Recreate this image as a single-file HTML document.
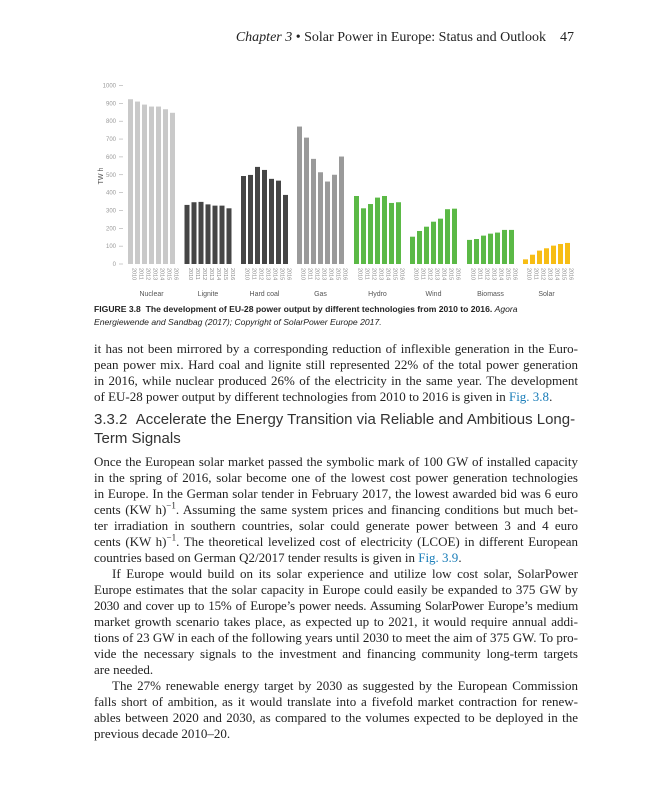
<!DOCTYPE html>
<html><head><meta charset="utf-8"><style>
body{margin:0;background:#fff;width:647px;height:800px;position:relative;overflow:hidden}
.hdr{position:absolute;top:30px;right:73px;font:14px "Liberation Serif",serif;color:#222}
.cap{position:absolute;left:94px;top:303px;width:432px;font:8.6px/13px "Liberation Sans",sans-serif;color:#222}
.body{position:absolute;left:94px;width:484px;font:13px/16px "Liberation Serif",serif;color:#222}
.body div{text-align:justify;text-align-last:justify;white-space:nowrap;overflow:visible}
.body div.l{text-align-last:left}
.body div.i{text-indent:18px}
.h{position:absolute;left:94px;top:410px;width:490px;font:15px/19px "Liberation Sans",sans-serif;color:#333;white-space:nowrap}
a{color:#1a7db8;text-decoration:none}
</style></head><body>
<div class="hdr"><i>Chapter 3</i> • Solar Power in Europe: Status and Outlook &nbsp;&nbsp; 47</div>
<svg width="647" height="300" style="position:absolute;left:0;top:0" font-family="Liberation Sans,sans-serif">
<g id="axis" fill="#999" font-size="6" text-anchor="end"></g>
</svg>
<div class="cap"><b>FIGURE 3.8 &nbsp;The development of EU-28 power output by different technologies from 2010 to 2016.</b> <i>Agora Energiewende and Sandbag (2017); Copyright of SolarPower Europe 2017.</i></div>
<div class="body" style="top:341px">
<div>it has not been mirrored by a corresponding reduction of inflexible generation in the Euro-</div>
<div>pean power mix. Hard coal and lignite still represented 22% of the total power generation</div>
<div>in 2016, while nuclear produced 26% of the electricity in the same year. The development</div>
<div class="l">of EU-28 power output by different technologies from 2010 to 2016 is given in <a>Fig. 3.8</a>.</div>
</div>
<div class="h">3.3.2 &nbsp;Accelerate the Energy Transition via Reliable and Ambitious Long-<br>Term Signals</div>
<div class="body" style="top:454px">
<div>Once the European solar market passed the symbolic mark of 100 GW of installed capacity</div>
<div>in the spring of 2016, solar become one of the lowest cost power generation technologies</div>
<div>in Europe. In the German solar tender in February 2017, the lowest awarded bid was 6 euro</div>
<div>cents (KW h)<sup style="font-size:9px;line-height:0">−1</sup>. Assuming the same system prices and financing conditions but much bet-</div>
<div>ter irradiation in southern countries, solar could generate power between 3 and 4 euro</div>
<div>cents (KW h)<sup style="font-size:9px;line-height:0">−1</sup>. The theoretical levelized cost of electricity (LCOE) in different European</div>
<div class="l">countries based on German Q2/2017 tender results is given in <a>Fig. 3.9</a>.</div>
<div class="i">If Europe would build on its solar experience and utilize low cost solar, SolarPower</div>
<div>Europe estimates that the solar capacity in Europe could easily be expanded to 375 GW by</div>
<div style="letter-spacing:-0.2px">2030 and cover up to 15% of Europe’s power needs. Assuming SolarPower Europe’s medium</div>
<div>market growth scenario takes place, as expected up to 2021, it would require annual addi-</div>
<div>tions of 23 GW in each of the following years until 2030 to meet the aim of 375 GW. To pro-</div>
<div>vide the necessary signals to the investment and financing community long-term targets</div>
<div class="l">are needed.</div>
<div class="i">The 27% renewable energy target by 2030 as suggested by the European Commission</div>
<div>falls short of ambition, as it would translate into a fivefold market contraction for renew-</div>
<div>ables between 2020 and 2030, as compared to the volumes expected to be deployed in the</div>
<div class="l">previous decade 2010–20.</div>
</div>
<script>
const g=document.getElementById('axis'),NS='http://www.w3.org/2000/svg';
function el(t,a,txt){const e=document.createElementNS(NS,t);for(const k in a)e.setAttribute(k,a[k]);if(txt)e.textContent=txt;g.appendChild(e);return e;}
const y0=264,s=0.1785;
for(let v=0;v<=1000;v+=100){const y=y0-v*s;el('text',{x:116,y:y+2},String(v));el('line',{x1:119,x2:123,y1:y,y2:y,stroke:'#aaa','stroke-width':0.6});}
el('text',{x:0,y:0,transform:'translate(103,176) rotate(-90)','text-anchor':'middle','font-size':7,fill:'#555'},'TW h');
const D=[["Nuclear","#c9c9c9",[923,910,893,882,882,867,847]],["Lignite","#454545",[331,346,348,334,327,327,312]],["Hard coal","#454545",[493,499,544,527,477,467,387]],["Gas","#9a9a9a",[770,708,589,514,462,500,602]],["Hydro","#5bb946",[381,312,336,372,381,342,346]],["Wind","#5bb946",[153,185,209,237,254,307,310]],["Biomass","#5bb946",[135,140,159,170,176,191,191]],["Solar","#f7bd14",[26,52,75,88,103,112,118]]];
const gx=[128,184.5,241,297,354,410,467,523];
D.forEach((d,i)=>{d[2].forEach((v,j)=>{const x=gx[i]+j*7,h=v*s;el('rect',{x:x,y:y0-h,width:5,height:h,fill:d[1]});
el('text',{x:0,y:0,transform:`translate(${x+4.5},268) rotate(90)`,'text-anchor':'start','font-size':5.5,fill:'#888'},String(2010+j));});
el('text',{x:gx[i]+23.5,y:296,'text-anchor':'middle','font-size':7,fill:'#555'},d[0]);});
</script>
</body></html>
